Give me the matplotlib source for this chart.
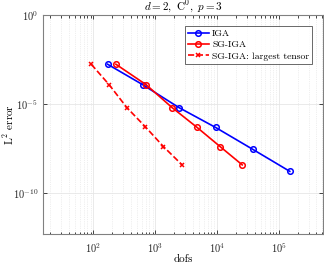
import math
import matplotlib
matplotlib.use("Agg")
import matplotlib.pyplot as plt
from matplotlib.ticker import FixedLocator, FuncFormatter, LogLocator, NullFormatter

iga_dofs = [169, 625, 2401, 9409, 37249, 148225]
iga_err = [1.7e-3, 1.2e-4, 6.2e-6, 4.7e-7, 2.8e-8, 1.6e-9]
sg_dofs = [230, 708, 1860, 4660, 11070, 25300]
sg_err = [1.7e-3, 1.2e-4, 6.2e-6, 4.9e-7, 4.0e-8, 3.7e-9]
lt_dofs = [92, 179, 346, 690, 1346, 2700]
lt_err = [1.7e-3, 1.2e-4, 6.2e-6, 5.1e-7, 4.0e-8, 3.7e-9]

plt.rcParams['mathtext.fontset'] = 'cm'
plt.rcParams['font.family'] = ['cmr10', 'DejaVu Serif']
plt.rcParams['axes.formatter.use_mathtext'] = True

fig = plt.figure(figsize=(3.24, 2.63), dpi=100)
ax = fig.add_axes([43/324, 1-234/263, (323-43)/324, (234-15)/263])

ax.plot(iga_dofs, iga_err, '-o', color='#0000ff', lw=1.2, ms=4, mfc='none', mew=1.1, label='IGA')
ax.plot(sg_dofs, sg_err, '-o', color='#ff0000', lw=1.2, ms=4, mfc='none', mew=1.1, label='SG-IGA')
ax.plot(lt_dofs, lt_err, '--x', color='#ff0000', lw=1.2, ms=3.5, mew=1.1, label='SG-IGA: largest tensor')

ax.set_xscale('log')
ax.set_yscale('log')
ax.set_xlim(15.3, 5.1e5)
ax.set_ylim(10**-12.32, 1)

ax.xaxis.set_major_locator(FixedLocator([1e2, 1e3, 1e4, 1e5]))
ax.xaxis.set_minor_locator(LogLocator(base=10, subs=range(2, 10), numticks=20))
ax.xaxis.set_minor_formatter(NullFormatter())
ax.yaxis.set_major_locator(FixedLocator([1e-10, 1e-5, 1e0]))
ax.yaxis.set_minor_locator(FixedLocator([]))
fmt = FuncFormatter(lambda v, p: r'$\mathsf{10^{%d}}$' % round(math.log10(v)))
ax.xaxis.set_major_formatter(fmt)
ax.yaxis.set_major_formatter(fmt)

ax.tick_params(which='both', direction='in', top=True, right=True, labelsize=7.5, colors='#262626', width=0.6)
ax.tick_params(which='major', length=3)
ax.tick_params(axis='x', which='major', pad=5)
ax.tick_params(which='minor', length=1.8)
for s in ax.spines.values():
    s.set_color('#808080')
    s.set_linewidth(0.8)

ax.grid(True, which='major', color='#e6e6e6', lw=0.6, ls='-')
ax.grid(True, which='minor', axis='x', color='#e0e0e0', lw=0.5, ls=':')
ax.set_axisbelow(True)

ax.set_title(r'$d=2,\ \mathrm{C}^0,\ p=3$', fontsize=8, pad=2.5)
ax.set_xlabel('dofs', fontsize=8, labelpad=0)
ax.set_ylabel(r'L$^2$ error', fontsize=8)
ax.yaxis.set_label_coords(-0.098, 0.5)

leg = ax.legend(loc='upper right', fontsize=7, frameon=True, fancybox=False,
                edgecolor='#262626', handlelength=2.2, handletextpad=0.3,
                borderpad=0.3, labelspacing=0.25, bbox_to_anchor=(0.9785, 0.97))
leg.get_frame().set_linewidth(0.6)

fig.savefig('out.png', dpi=100)
